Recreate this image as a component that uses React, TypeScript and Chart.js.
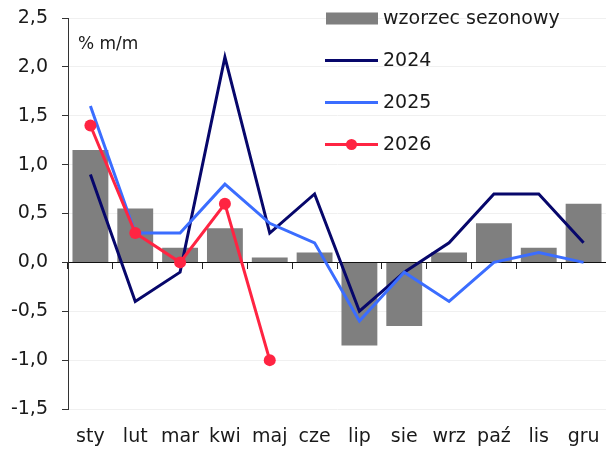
import React, { useEffect, useRef } from 'react';
import { Chart, registerables } from 'chart.js';

Chart.register(...registerables);

const categories = ['sty', 'lut', 'mar', 'kwi', 'maj', 'cze', 'lip', 'sie', 'wrz', 'paź', 'lis', 'gru'];
const seasonal = [1.15, 0.55, 0.15, 0.35, 0.05, 0.1, -0.85, -0.65, 0.1, 0.4, 0.15, 0.6];
const series2024 = [0.9, -0.4, -0.1, 2.1, 0.3, 0.7, -0.5, -0.1, 0.2, 0.7, 0.7, 0.2];
const series2025 = [1.6, 0.3, 0.3, 0.8, 0.4, 0.2, -0.6, -0.1, -0.4, 0.0, 0.1, 0.0];
const series2026 = [1.4, 0.3, 0.0, 0.6, -1.0];
const seriesLabels = ['wzorzec sezonowy', '2024', '2025', '2026'];
const unitLabel = '% m/m';
const yMin = -1.5;
const yMax = 2.5;
const yStep = 0.5;

const FONT = '"DejaVu Sans", sans-serif';
const BAR_COLOR = '#7f7f7f';
const C2024 = '#07076b';
const C2025 = '#3b6dff';
const C2026 = '#ff2442';

const overlayPlugin = {
  id: 'overlay',
  afterDraw(chart: any) {
    const ctx = chart.ctx;
    ctx.save();
    ctx.fillStyle = '#1a1a1a';
    ctx.font = `17px ${FONT}`;
    ctx.textAlign = 'left';
    ctx.textBaseline = 'middle';
    ctx.fillText(unitLabel, 78, 45);
    const x0 = 325;
    const x1 = 378;
    const tx = 383;
    const y0 = 18.5;
    const dy = 42;
    chart.data.datasets.forEach((ds: any, i: number) => {
      const y = y0 + i * dy;
      if (ds.type === 'bar') {
        ctx.fillStyle = ds.backgroundColor;
        ctx.fillRect(x0 + 1, y - 6, x1 - x0 - 1, 12);
      } else {
        ctx.strokeStyle = ds.borderColor;
        ctx.lineWidth = ds.borderWidth;
        ctx.beginPath();
        ctx.moveTo(x0, y);
        ctx.lineTo(x1, y);
        ctx.stroke();
        if (ds.pointRadius > 0) {
          ctx.fillStyle = ds.pointBackgroundColor;
          ctx.beginPath();
          ctx.arc((x0 + x1) / 2, y, 5.5, 0, Math.PI * 2);
          ctx.fill();
        }
      }
      ctx.fillStyle = '#1a1a1a';
      ctx.font = `19px ${FONT}`;
      ctx.textAlign = 'left';
      ctx.textBaseline = 'middle';
      ctx.fillText(ds.label, tx, y + 1);
    });
    ctx.restore();
  },
};

export default function App() {
  const canvasRef = useRef<HTMLCanvasElement | null>(null);

  useEffect(() => {
    document.body.style.margin = '0';
    const canvas = canvasRef.current;
    if (!canvas) return;
    const chart = new Chart(canvas, {
      type: 'bar',
      data: {
        labels: categories,
        datasets: [
          {
            type: 'bar',
            label: seriesLabels[0],
            data: seasonal,
            backgroundColor: BAR_COLOR,
            borderWidth: 0,
            barPercentage: 0.8,
            categoryPercentage: 1.0,
            order: 4,
          } as any,
          {
            type: 'line',
            label: seriesLabels[1],
            data: series2024,
            borderColor: C2024,
            backgroundColor: C2024,
            borderWidth: 3,
            pointRadius: 0,
            tension: 0,
            order: 3,
          },
          {
            type: 'line',
            label: seriesLabels[2],
            data: series2025,
            borderColor: C2025,
            backgroundColor: C2025,
            borderWidth: 3,
            pointRadius: 0,
            tension: 0,
            order: 2,
          },
          {
            type: 'line',
            label: seriesLabels[3],
            data: series2026,
            borderColor: C2026,
            backgroundColor: C2026,
            pointBackgroundColor: C2026,
            pointBorderWidth: 0,
            borderWidth: 3,
            pointRadius: 6,
            tension: 0,
            order: 1,
          },
        ],
      },
      options: {
        animation: false,
        responsive: false,
        devicePixelRatio: 1,
        layout: { autoPadding: false, padding: { top: 18, left: 0, right: 0, bottom: 0 } },
        plugins: {
          legend: { display: false },
          tooltip: { enabled: false },
        },
        scales: {
          x: {
            type: 'category',
            position: 'bottom',
            offset: true,
            grid: { display: false, drawTicks: false, offset: true },
            border: { display: false },
            ticks: {
              color: '#1a1a1a',
              font: { family: FONT, size: 19 },
              padding: 17,
              maxRotation: 0,
              autoSkip: false,
            },
            afterFit: (s: any) => {
              s.height = 41;
              s.paddingLeft = 0;
              s.paddingRight = 0;
            },
          },
          x2: {
            type: 'category',
            axis: 'x',
            position: { y: 0 },
            offset: true,
            grid: {
              drawOnChartArea: false,
              drawTicks: true,
              tickLength: 6,
              tickColor: '#222',
              offset: true,
            },
            border: { display: true, color: '#111', width: 1 },
            ticks: { display: false },
            afterFit: (s: any) => {
              s.paddingLeft = 0;
              s.paddingRight = 0;
            },
          } as any,
          y: {
            min: yMin,
            max: yMax,
            position: 'left',
            grid: {
              color: '#f0f0f0',
              lineWidth: 1,
              drawTicks: true,
              tickLength: 6,
              tickColor: '#333',
            },
            border: { display: true, color: '#333', width: 1 },
            ticks: {
              stepSize: yStep,
              color: '#1a1a1a',
              font: { family: FONT, size: 19 },
              padding: 14,
              callback: (v: any) => Number(v).toFixed(1).replace('.', ','),
            },
            afterFit: (s: any) => {
              s.width = 68;
              s.paddingTop = 0;
              s.paddingBottom = 0;
            },
          },
        },
      },
      plugins: [overlayPlugin],
    });
    return () => chart.destroy();
  }, []);

  return (
    <div style={{ position: 'absolute', left: 0, top: 0, width: 606, height: 450, background: '#fff' }}>
      <canvas ref={canvasRef} width={606} height={450} style={{ display: 'block' }} />
    </div>
  );
}
